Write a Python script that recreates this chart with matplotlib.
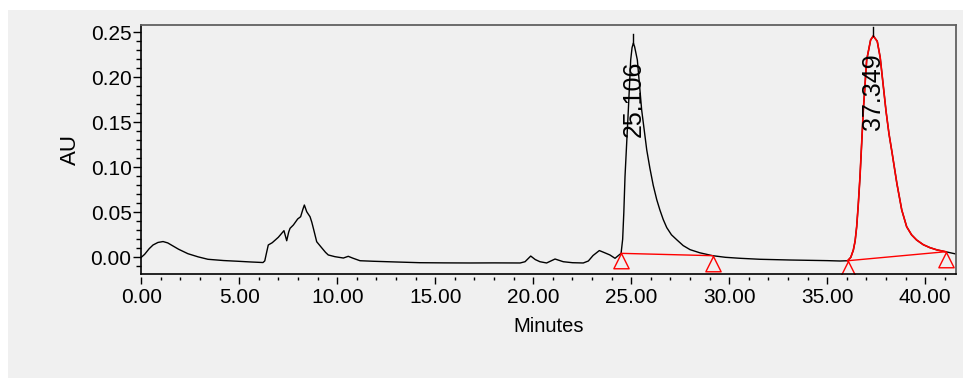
import matplotlib.pyplot as plt
from matplotlib.patches import Rectangle
from matplotlib.ticker import MultipleLocator, FormatStrFormatter

plt.rcParams["font.family"] = ["Liberation Sans", "DejaVu Sans"]

# detector trace (minutes, AU)
time_min = [
    0.00, 0.17, 0.40, 0.60, 0.85, 1.11, 1.35, 1.53, 1.90, 2.38, 2.90, 3.40,
    4.20, 4.93, 5.60, 6.21, 6.30, 6.40, 6.48, 6.68, 6.99, 7.28, 7.42, 7.52,
    7.59, 7.76, 7.98, 8.13, 8.24, 8.32, 8.44, 8.52, 8.61, 8.70, 8.78, 8.95,
    9.20, 9.40, 9.54, 9.88, 10.31, 10.56, 10.80, 11.16, 11.84, 13.00, 14.22,
    15.50, 16.77, 18.00, 19.33, 19.58, 19.87, 20.10, 20.34, 20.68, 21.11,
    21.53, 22.00, 22.55, 22.81, 23.05, 23.37, 23.65, 23.91, 24.17, 24.48,
    24.56, 24.62, 24.68, 24.85, 24.97, 25.04, 25.106, 25.17, 25.31, 25.53,
    25.79, 25.95, 26.12, 26.30, 26.46, 26.63, 26.81, 27.05, 27.32, 27.65,
    28.00, 28.50, 29.15, 29.80, 30.55, 31.57, 33.10, 35.00, 35.65, 36.04,
    36.20, 36.33, 36.42, 36.50, 36.58, 36.67, 36.84, 37.01, 37.21, 37.349,
    37.55, 37.70, 37.85, 38.00, 38.15, 38.30, 38.55, 38.80, 39.05, 39.30,
    39.56, 39.90, 40.24, 40.60, 41.04, 41.60,
]
au = [
    0.0000, 0.0033, 0.0095, 0.0137, 0.0165, 0.0175, 0.0160, 0.0137, 0.0090,
    0.0040, 0.0005, -0.0022, -0.0036, -0.0044, -0.0052, -0.0058, -0.0040,
    0.0060, 0.0137, 0.0162, 0.0222, 0.0296, 0.0184, 0.0280, 0.0322, 0.0359,
    0.0426, 0.0451, 0.0530, 0.0581, 0.0507, 0.0480, 0.0451, 0.0390, 0.0322,
    0.0173, 0.0107, 0.0055, 0.0026, 0.0007, -0.0008, 0.0011, -0.0010,
    -0.0038, -0.0044, -0.0052, -0.0060, -0.0062, -0.0063, -0.0062, -0.0063,
    -0.0049, 0.0014, -0.0025, -0.0049, -0.0063, -0.0019, -0.0049, -0.0060,
    -0.0063, -0.0041, 0.0020, 0.0075, 0.0050, 0.0026, -0.0011, 0.0044,
    0.0200, 0.0500, 0.0896, 0.1637, 0.2192, 0.2330, 0.2380, 0.2340, 0.2192,
    0.1637, 0.1192, 0.0990, 0.0800, 0.0640, 0.0526, 0.0420, 0.0330, 0.0250,
    0.0195, 0.0130, 0.0085, 0.0050, 0.0018, 0.0000, -0.0011, -0.0022,
    -0.0030, -0.0037, -0.0041, -0.0038, 0.0000, 0.0081, 0.0180, 0.0340,
    0.0580, 0.0896, 0.1637, 0.2192, 0.2414, 0.2460, 0.2400, 0.2220, 0.1920,
    0.1620, 0.1370, 0.1170, 0.0822, 0.0526, 0.0340, 0.0250, 0.0192, 0.0140,
    0.0107, 0.0082, 0.0062, 0.0035,
]

# integrated peaks
peak_rt = [25.106, 37.349]
peak_height = [0.2380, 0.2460]
peak_labels = ["25.106", "37.349"]
base_start_t = [24.48, 36.04]
base_start_au = [0.0044, -0.0038]
base_end_t = [29.15, 41.04]
base_end_au = [0.0018, 0.0062]

bg = "#f0f0f0"
fig = plt.figure(figsize=(9.71, 3.78), dpi=100)
fig.patch.set_facecolor("white")
fig.patches.append(Rectangle((8 / 971, 0), 955 / 971, 368 / 378,
                             transform=fig.transFigure, facecolor=bg,
                             edgecolor="none", zorder=-10))

ax = fig.add_axes([0.1455, 0.2743, 0.8393, 0.6595])
ax.set_facecolor(bg)

ax.plot(time_min, au, color="black", lw=1.0, zorder=2)

# second peak is drawn highlighted in red over the trace
i0 = time_min.index(base_start_t[1])
i1 = time_min.index(base_end_t[1])
ax.plot(time_min[i0:i1 + 1], au[i0:i1 + 1], color="red", lw=1.2, zorder=3)

# triangle marker with its apex on the point
tri = [(0, 0), (-0.5, -1), (0.5, -1), (0, 0)]
for k in range(len(peak_rt)):
    ax.plot([base_start_t[k], base_end_t[k]], [base_start_au[k], base_end_au[k]],
            color="red", lw=1.0, zorder=3)
    ax.plot([base_start_t[k], base_end_t[k]], [base_start_au[k], base_end_au[k]],
            ls="none", marker=tri, ms=22, mfc="none", mec="red", mew=1.0,
            zorder=4)
    ax.plot([peak_rt[k], peak_rt[k]], [peak_height[k], peak_height[k] + 0.01],
            color="black", lw=1.0, zorder=4)
    ax.text(peak_rt[k], peak_height[k] - 0.019, peak_labels[k], rotation=90,
            ha="center", va="top", fontsize=18, zorder=5)

ax.set_xlim(0, 41.58)
ax.set_ylim(-0.0189, 0.2581)

ax.xaxis.set_major_locator(MultipleLocator(5))
ax.xaxis.set_minor_locator(MultipleLocator(1))
ax.xaxis.set_major_formatter(FormatStrFormatter("%.2f"))
ax.yaxis.set_major_locator(MultipleLocator(0.05))
ax.yaxis.set_minor_locator(MultipleLocator(0.01))
ax.yaxis.set_major_formatter(FormatStrFormatter("%.2f"))

ax.tick_params(axis="both", which="major", labelsize=15, width=1.0, color="black")
ax.tick_params(axis="y", which="major", length=6, pad=1)
ax.tick_params(axis="y", which="minor", length=3.5, width=1.0)
ax.tick_params(axis="x", which="major", length=5, pad=3)
ax.tick_params(axis="x", which="minor", length=2.5, width=1.0)

# x ticks sit a little below the axis line
ax.spines["bottom"].set_position(("outward", 2))
ax.spines["bottom"].set_visible(False)
ax.plot([0, 1], [0, 0], transform=ax.transAxes, color="black", lw=1.2,
        clip_on=False, zorder=6)
ax.spines["left"].set_color("black")
ax.spines["left"].set_linewidth(1.2)
for side in ["top", "right"]:
    ax.spines[side].set_color("#606060")
    ax.spines[side].set_linewidth(1.3)

ax.set_xlabel("Minutes", fontsize=14.5, labelpad=7)
ax.set_ylabel("AU", fontsize=16, labelpad=7)

fig.savefig("out.png", dpi=100, facecolor=fig.get_facecolor())
